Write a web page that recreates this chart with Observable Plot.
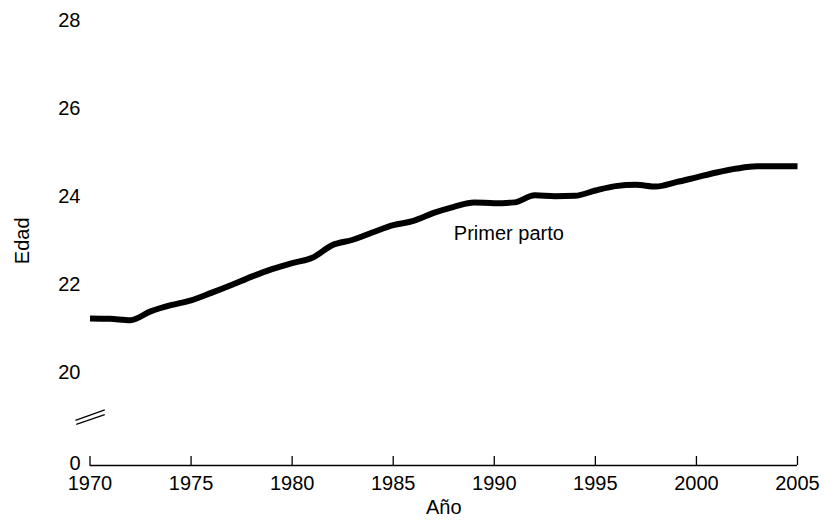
<!DOCTYPE html>
<html><head><meta charset="utf-8">
<script src="https://cdn.jsdelivr.net/npm/d3@7"></script>
<script src="https://cdn.jsdelivr.net/npm/@observablehq/plot@0.6"></script>
<style>html,body{margin:0;padding:0;background:#fff} svg{display:block}</style>
</head><body><div id="chart"></div>
<script>
const years = [1970,1971,1972,1973,1974,1975,1976,1977,1978,1979,1980,1981,1982,1983,1984,1985,1986,1987,1988,1989,1990,1991,1992,1993,1994,1995,1996,1997,1998,1999,2000,2001,2002,2003,2004,2005];
const ages = [21.26,21.25,21.22,21.42,21.56,21.67,21.84,22.02,22.21,22.38,22.52,22.64,22.93,23.05,23.22,23.38,23.48,23.66,23.80,23.90,23.88,23.90,24.06,24.04,24.05,24.17,24.27,24.30,24.26,24.36,24.47,24.58,24.67,24.72,24.72,24.72];
const xTicks = [1970,1975,1980,1985,1990,1995,2000,2005];
const yTicks = [0,20,22,24,26,28];
const yBreakAt = 18.5;
const yMax = 28;
const breakMarks = [
  {x1:1969.28,y1:18.94,x2:1970.73,y2:19.18},
  {x1:1969.32,y1:18.85,x2:1970.73,y2:19.07}
];
const seriesLabels = [{year:1988.0, age:23.2, text:"Primer parto"}];
const xLabel = "Año";
const yLabel = "Edad";

// layout
const W=838, H=526, mL=89.5, mR=41, mT=21.7, mB=61;
const pxPerUnit = 43.95;       // pixels per year of age above the break
const brokenPx = 25.8;         // pixels used by 0..yBreakAt below the break
const k = brokenPx / (yBreakAt * pxPerUnit);
// broken-axis mapping: compress 0..yBreakAt into a short stretch
const f = v => v >= yBreakAt ? v : yBreakAt - (yBreakAt - v) * k;
const finv = u => u >= yBreakAt ? u : yBreakAt - (yBreakAt - u) / k;
const y0 = f(0);
const tickLen = 9;

const data = years.map((year,i)=>({year, age:ages[i]}));

const chart = Plot.plot({
  width: W, height: H,
  marginLeft: mL, marginRight: mR, marginTop: mT, marginBottom: mB,
  style: {fontFamily: "'Liberation Sans', Arial, Helvetica, sans-serif", fontSize: "20px", color: "#000", background: "#fff", overflow: "visible"},
  x: {domain: [1970, 2005]},
  y: {domain: [y0, yMax]},
  marks: [
    Plot.ruleY([y0], {stroke: "#000", strokeWidth: 1.3}),
    Plot.ruleX(xTicks, {x: d => d, y1: y0, y2: y0 + tickLen / pxPerUnit, stroke: "#000", strokeWidth: 1.3}),
    Plot.axisX({ticks: xTicks, tickFormat: d => String(d), tickSize: 0, tickPadding: 10, label: null}),
    Plot.axisY({ticks: yTicks.map(f), tickFormat: u => String(Math.round(finv(u))), tickSize: 0, tickPadding: 9.5, dy: -1.5, label: null}),
    Plot.link(breakMarks, {x1:"x1", y1: d => f(d.y1), x2:"x2", y2: d => f(d.y2), stroke: "#000", strokeWidth: 1.2, clip: false}),
    Plot.line(data, {x: "year", y: d => f(d.age), stroke: "#000", strokeWidth: 6, strokeLinejoin: "round", strokeLinecap: "butt", curve: "monotone-x"}),
    Plot.text(seriesLabels, {x: "year", y: d => f(d.age), text: "text", textAnchor: "start", fill: "#000"}),
    Plot.text([xLabel], {frameAnchor: "bottom", lineAnchor: "middle", dy: 42, fill: "#000"}),
    Plot.text([yLabel], {frameAnchor: "left", textAnchor: "middle", lineAnchor: "middle", rotate: -90, dx: -67, dy: -3, fill: "#000"})
  ]
});
document.getElementById("chart").appendChild(chart);
</script>
</body></html>
